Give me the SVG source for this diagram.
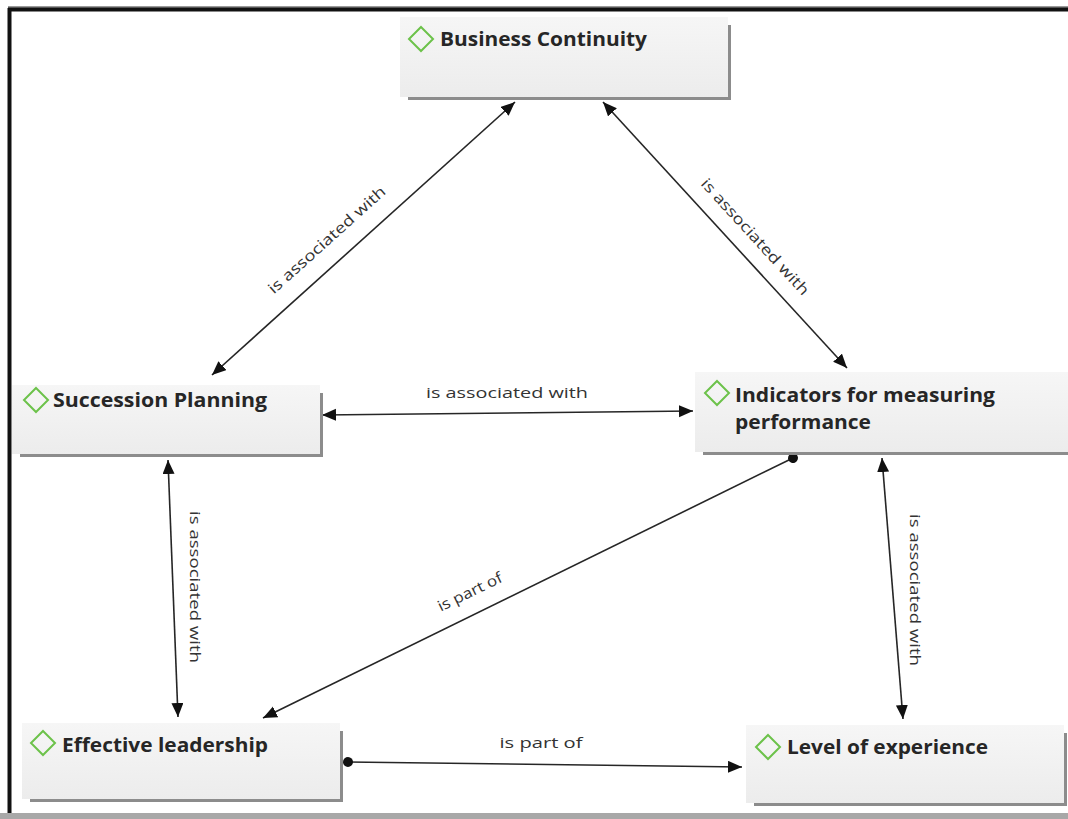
<svg xmlns="http://www.w3.org/2000/svg" width="1068" height="819" viewBox="0 0 1068 819">
  <style>
    .box { fill: url(#boxFill); }
    .shadow { fill: #8c8c8c; }
    .icon { fill: none; stroke: #6cc24a; stroke-width: 2; }
    .title { font-family: "Open Sans", "Liberation Sans", sans-serif; font-weight: 700; font-size: 19px; fill: #262626; }
    .edge { stroke: #262626; stroke-width: 1.6; fill: none; }
    .label { font-family: "Open Sans", "Liberation Sans", sans-serif; font-size: 15px; fill: #333333; text-anchor: middle; }
  </style>
  <defs>
    <linearGradient id="boxFill" x1="0" y1="0" x2="0" y2="1">
      <stop offset="0" stop-color="#f6f6f6"/>
      <stop offset="1" stop-color="#ececec"/>
    </linearGradient>
    <marker id="arrow" markerUnits="userSpaceOnUse" markerWidth="16" markerHeight="14" refX="14" refY="6" orient="auto-start-reverse">
      <path d="M0,0 L14,6 L0,12 z" fill="#111111"/>
    </marker>
    <marker id="dot" markerUnits="userSpaceOnUse" markerWidth="12" markerHeight="12" refX="6" refY="6" orient="auto">
      <circle cx="6" cy="6" r="5" fill="#111111"/>
    </marker>
  </defs>

  <!-- page frame -->
  <rect x="0" y="0" width="1068" height="819" fill="#ffffff"/>
  <line x1="8" y1="7" x2="1068" y2="7" stroke="#9a9a9a" stroke-width="2"/>
  <line x1="8" y1="9.5" x2="1068" y2="9.5" stroke="#111111" stroke-width="4"/>
  <line x1="9.5" y1="8" x2="9.5" y2="813" stroke="#111111" stroke-width="4"/>
  <rect x="0" y="813" width="1068" height="6" fill="#a8a8a8"/>

  <!-- connectors -->
  <g id="connectors">
    <line class="edge" x1="515" y1="102" x2="212" y2="375" marker-start="url(#arrow)" marker-end="url(#arrow)"/>
    <line class="edge" x1="603" y1="102" x2="847" y2="368" marker-start="url(#arrow)" marker-end="url(#arrow)"/>
    <line class="edge" x1="322" y1="415" x2="693" y2="411" marker-start="url(#arrow)" marker-end="url(#arrow)"/>
    <line class="edge" x1="168" y1="460" x2="178" y2="717" marker-start="url(#arrow)" marker-end="url(#arrow)"/>
    <line class="edge" x1="793" y1="458" x2="263" y2="718" marker-start="url(#dot)" marker-end="url(#arrow)"/>
    <line class="edge" x1="882" y1="458" x2="903" y2="719" marker-start="url(#arrow)" marker-end="url(#arrow)"/>
    <line class="edge" x1="348" y1="762" x2="742" y2="767" marker-start="url(#dot)" marker-end="url(#arrow)"/>

    <text class="label" transform="translate(327,240) rotate(-42)" x="0" y="5" textLength="152" lengthAdjust="spacingAndGlyphs">is associated with</text>
    <text class="label" transform="translate(755,237) rotate(47.5)" x="0" y="5" textLength="152" lengthAdjust="spacingAndGlyphs">is associated with</text>
    <text class="label" x="507" y="398" textLength="162" lengthAdjust="spacingAndGlyphs">is associated with</text>
    <text class="label" transform="translate(195,587) rotate(90)" x="0" y="5" textLength="152" lengthAdjust="spacingAndGlyphs">is associated with</text>
    <text class="label" transform="translate(470,592) rotate(-26)" x="0" y="5" textLength="70" lengthAdjust="spacingAndGlyphs">is part of</text>
    <text class="label" transform="translate(915,590) rotate(90)" x="0" y="5" textLength="152" lengthAdjust="spacingAndGlyphs">is associated with</text>
    <text class="label" x="541" y="748" textLength="83" lengthAdjust="spacingAndGlyphs">is part of</text>
  </g>

  <!-- nodes -->
  <g id="business-continuity">
    <rect class="shadow" x="408" y="25" width="323" height="75"/>
    <rect class="box" x="400" y="17" width="328" height="80"/>
    <path class="icon" d="M421,27 L433,39 L421,51 L409,39 z"/>
    <text class="title" x="440" y="46" textLength="207" lengthAdjust="spacingAndGlyphs">Business Continuity</text>
  </g>

  <g id="succession-planning">
    <rect class="shadow" x="20" y="393" width="303" height="64"/>
    <rect class="box" x="12" y="385" width="308" height="69"/>
    <path class="icon" d="M36,388 L48,400 L36,412 L24,400 z"/>
    <text class="title" x="53" y="407" textLength="214" lengthAdjust="spacingAndGlyphs">Succession Planning</text>
  </g>

  <g id="indicators-performance">
    <rect class="shadow" x="703" y="380" width="365" height="75"/>
    <rect class="box" x="695" y="372" width="373" height="80"/>
    <path class="icon" d="M717,381 L729,393 L717,405 L705,393 z"/>
    <text class="title" x="735" y="402" textLength="260" lengthAdjust="spacingAndGlyphs">Indicators for measuring</text>
    <text class="title" x="735" y="429" textLength="136" lengthAdjust="spacingAndGlyphs">performance</text>
  </g>

  <g id="effective-leadership">
    <rect class="shadow" x="30" y="731" width="313" height="71"/>
    <rect class="box" x="22" y="723" width="318" height="76"/>
    <path class="icon" d="M43,731 L55,743 L43,755 L31,743 z"/>
    <text class="title" x="62" y="752" textLength="206" lengthAdjust="spacingAndGlyphs">Effective leadership</text>
  </g>

  <g id="level-of-experience">
    <rect class="shadow" x="754" y="733" width="313" height="73"/>
    <rect class="box" x="746" y="725" width="318" height="78"/>
    <path class="icon" d="M768,735 L780,747 L768,759 L756,747 z"/>
    <text class="title" x="787" y="754" textLength="201" lengthAdjust="spacingAndGlyphs">Level of experience</text>
  </g>
</svg>
